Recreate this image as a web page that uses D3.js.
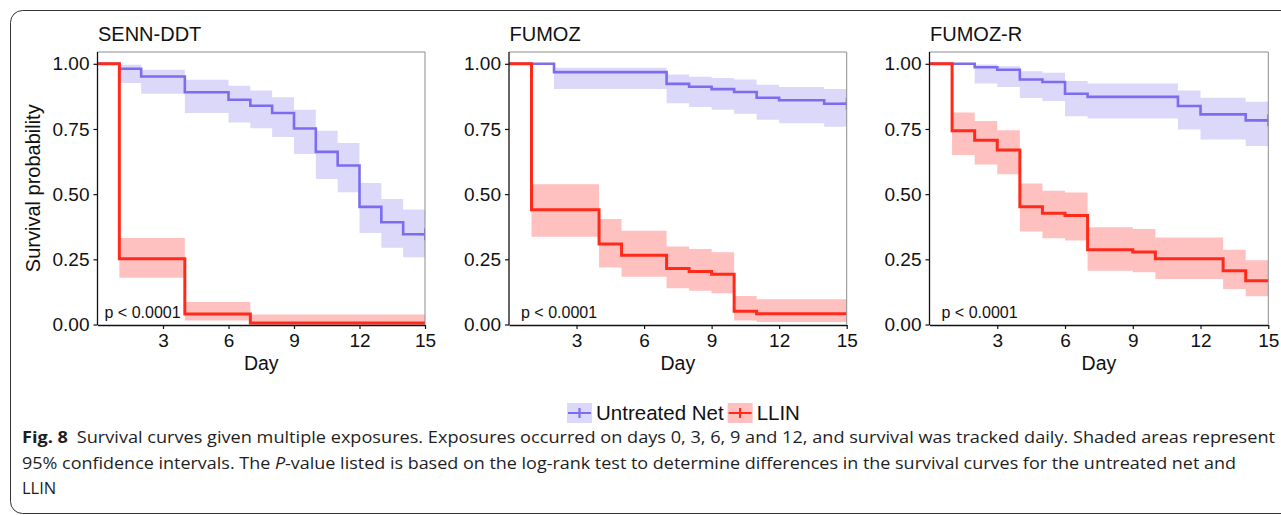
<!DOCTYPE html>
<meta charset="utf-8">
<script src="https://d3js.org/d3.v7.min.js"></script>
<style>
  body { margin: 0; background: #fff; }
  text { font-family: "Liberation Sans", Arial, sans-serif; fill: #111; }
  .caption text { font-family: "Open Sans", sans-serif; fill: #1e1e1e; }
</style>
<div id="fig"></div>
<script>

// ---- data ----
var strains = ["SENN-DDT", "FUMOZ", "FUMOZ-R"];
var groups = ["Untreated Net", "LLIN"];
var xTicks = [3, 6, 9, 12, 15];
var yTicks = [0, 0.25, 0.5, 0.75, 1];
var pLabel = "p < 0.0001";
var lastDay = 15;

// SENN-DDT
var sennUntreatedTime  = [0, 1, 2, 4, 6, 7, 8, 9, 10, 11, 12, 13, 14];
var sennUntreatedSurv  = [1, 0.981, 0.951, 0.891, 0.862, 0.839, 0.811, 0.752, 0.662, 0.610, 0.451, 0.392, 0.346];
var sennUntreatedUpper = [1, 0.996, 0.977, 0.939, 0.916, 0.898, 0.872, 0.824, 0.743, 0.696, 0.543, 0.481, 0.441];
var sennUntreatedLower = [1, 0.926, 0.885, 0.811, 0.775, 0.753, 0.719, 0.654, 0.558, 0.507, 0.351, 0.294, 0.258];

var sennLlinTime  = [0, 1, 4, 7];
var sennLlinSurv  = [1, 0.252, 0.040, 0.006];
var sennLlinUpper = [1, 0.332, 0.086, 0.038];
var sennLlinLower = [1, 0.179, 0.015, 0.000];

// FUMOZ
var fumozUntreatedTime  = [0, 2, 7, 8, 9, 10, 11, 12, 14];
var fumozUntreatedSurv  = [1, 0.968, 0.923, 0.912, 0.903, 0.892, 0.870, 0.860, 0.847];
var fumozUntreatedUpper = [1, 0.985, 0.959, 0.950, 0.946, 0.940, 0.920, 0.911, 0.903];
var fumozUntreatedLower = [1, 0.903, 0.849, 0.834, 0.824, 0.808, 0.785, 0.772, 0.759];

var fumozLlinTime  = [0, 1, 4, 5, 7, 8, 9, 10, 11];
var fumozLlinSurv  = [1, 0.440, 0.309, 0.266, 0.215, 0.203, 0.193, 0.051, 0.041];
var fumozLlinUpper = [1, 0.538, 0.405, 0.360, 0.299, 0.290, 0.277, 0.109, 0.097];
var fumozLlinLower = [1, 0.337, 0.219, 0.183, 0.139, 0.129, 0.120, 0.015, 0.010];

// FUMOZ-R
var fumozrUntreatedTime  = [0, 2, 3, 4, 5, 6, 7, 11, 12, 14];
var fumozrUntreatedSurv  = [1, 0.987, 0.977, 0.940, 0.930, 0.885, 0.873, 0.838, 0.806, 0.783];
var fumozrUntreatedUpper = [1, 0.997, 0.991, 0.971, 0.966, 0.934, 0.924, 0.898, 0.870, 0.854];
var fumozrUntreatedLower = [1, 0.924, 0.911, 0.869, 0.857, 0.799, 0.790, 0.748, 0.710, 0.685];

var fumozrLlinTime  = [0, 1, 2, 3, 4, 5, 6, 7, 9, 10, 13, 14];
var fumozrLlinSurv  = [1, 0.743, 0.707, 0.669, 0.452, 0.427, 0.418, 0.287, 0.278, 0.252, 0.206, 0.168];
var fumozrLlinUpper = [1, 0.813, 0.781, 0.745, 0.541, 0.513, 0.506, 0.373, 0.366, 0.334, 0.287, 0.246];
var fumozrLlinLower = [1, 0.650, 0.614, 0.576, 0.357, 0.331, 0.322, 0.206, 0.200, 0.175, 0.136, 0.108];

var captionLines = [
  ["Fig. 8", "Survival curves given multiple exposures. Exposures occurred on days 0, 3, 6, 9 and 12, and survival was tracked daily. Shaded areas represent"],
  ["95% confidence intervals. The ", "P", "-value listed is based on the log-rank test to determine differences in the survival curves for the untreated net and"],
  ["LLIN"]
];

// build the table the drawing needs
function series(t, s, hi, lo) {
  var pts = t.map(function(d, i) { return {t: d, s: s[i], hi: hi[i], lo: lo[i]}; });
  var last = pts[pts.length - 1];
  pts.push({t: lastDay, s: last.s, hi: last.hi, lo: last.lo});
  return pts;
}
var panels = [
  [series(sennUntreatedTime, sennUntreatedSurv, sennUntreatedUpper, sennUntreatedLower),
   series(sennLlinTime, sennLlinSurv, sennLlinUpper, sennLlinLower)],
  [series(fumozUntreatedTime, fumozUntreatedSurv, fumozUntreatedUpper, fumozUntreatedLower),
   series(fumozLlinTime, fumozLlinSurv, fumozLlinUpper, fumozLlinLower)],
  [series(fumozrUntreatedTime, fumozrUntreatedSurv, fumozrUntreatedUpper, fumozrUntreatedLower),
   series(fumozrLlinTime, fumozrLlinSurv, fumozrLlinUpper, fumozrLlinLower)]
];

// ---- layout ----
var W = 1281, H = 515;
var lineColors = ["#7b6cf0", "#ff2a1a"];
var bandColors = ["#dcd8fa", "#ffc0c0"];
var layout = [
  {x0: 97.5, x1: 425,    pdx: 7},
  {x0: 509,  x1: 846.7,  pdx: 12},
  {x0: 929.5, x1: 1268.3, pdx: 12}
];
var yBottom = 324.5, yOne = 63.8, yTop = 52;

var svg = d3.select("#fig")
  .append("svg")
    .attr("width", W)
    .attr("height", H);

// outer frame
svg.append("rect")
  .attr("x", 10.5).attr("y", 10.5)
  .attr("width", 1300).attr("height", 503)
  .attr("rx", 12)
  .attr("fill", "none")
  .attr("stroke", "#333")
  .attr("stroke-width", 1);

var y = d3.scaleLinear().domain([0, 1]).range([yBottom, yOne]);

panels.forEach(function(data, p) {
  var L = layout[p];
  var x = d3.scaleLinear().domain([0, lastDay]).range([L.x0, L.x1]);
  var g = svg.append("g");

  svg.append("clipPath").attr("id", "clip" + p)
    .append("rect")
      .attr("x", L.x0).attr("y", yTop)
      .attr("width", L.x1 - L.x0).attr("height", yBottom - yTop + 1);

  var plot = g.append("g").attr("clip-path", "url(#clip" + p + ")");

  var band = d3.area().curve(d3.curveStepAfter)
    .x(function(d) { return x(d.t); })
    .y0(function(d) { return y(d.lo); })
    .y1(function(d) { return y(d.hi); });
  var line = d3.line().curve(d3.curveStepAfter)
    .x(function(d) { return x(d.t); })
    .y(function(d) { return y(d.s); });

  data.forEach(function(s, i) {
    plot.append("path").attr("d", band(s)).attr("fill", bandColors[i]);
  });
  data.forEach(function(s, i) {
    plot.append("path").attr("d", line(s))
      .attr("fill", "none")
      .attr("stroke", lineColors[i])
      .attr("stroke-width", i == 1 ? 3 : 2.6);
  });
  // censor mark at the end of the untreated curve
  var end = data[0][data[0].length - 1];
  plot.append("path")
    .attr("d", "M" + x(end.t) + "," + (y(end.s) - 6) + "V" + (y(end.s) + 6) +
               "M" + (x(end.t) - 6) + "," + y(end.s) + "H" + (x(end.t) + 6))
    .attr("stroke", lineColors[0]).attr("stroke-width", 2);

  // panel border (top/right grey)
  g.append("path")
    .attr("d", "M" + L.x0 + "," + yTop + "H" + L.x1 + "V" + yBottom)
    .attr("fill", "none").attr("stroke", "#8c8c8c").attr("stroke-width", 1);

  // axes
  var yAxis = g.append("g")
    .attr("transform", "translate(" + L.x0 + ",0)")
    .call(d3.axisLeft(y).tickValues(yTicks).tickFormat(d3.format(".2f")).tickSize(4).tickPadding(4).tickSizeOuter(0));
  yAxis.select(".domain").remove();
  g.append("line")
    .attr("x1", L.x0).attr("x2", L.x0).attr("y1", yTop).attr("y2", yBottom + 0.5)
    .attr("stroke", "#111").attr("stroke-width", 1.3);

  var xAxis = g.append("g")
    .attr("transform", "translate(0," + (yBottom + 0.5) + ")")
    .call(d3.axisBottom(x).tickValues(xTicks).tickSize(4).tickPadding(5).tickSizeOuter(0));
  xAxis.select(".domain").attr("stroke", "#111").attr("stroke-width", 1.3);

  [yAxis, xAxis].forEach(function(a) {
    a.selectAll(".tick line").attr("stroke", "#111").attr("stroke-width", 1.2);
    a.selectAll(".tick text")
      .attr("fill", "#111")
      .style("font-family", "'Liberation Sans', Arial, sans-serif")
      .style("font-size", "19px");
  });

  // titles
  g.append("text")
    .attr("x", L.x0 + 0.5).attr("y", 40.5)
    .style("font-size", "20px")
    .text(strains[p]);

  g.append("text")
    .attr("x", (L.x0 + L.x1) / 2).attr("y", 370)
    .attr("text-anchor", "middle")
    .style("font-size", "19.5px")
    .text("Day");

  g.append("text")
    .attr("x", L.x0 + L.pdx).attr("y", 318)
    .style("font-size", "16px")
    .text(pLabel);
});

// y axis title
svg.append("text")
  .attr("transform", "translate(40," + ((yTop + yBottom) / 2) + ") rotate(-90)")
  .attr("text-anchor", "middle")
  .style("font-size", "20px")
  .text("Survival probability");

// legend
var legend = svg.append("g");
var lx = 567;
groups.forEach(function(name, i) {
  var key = legend.append("g").attr("transform", "translate(" + lx + ",403)");
  key.append("rect").attr("width", 25).attr("height", 20).attr("fill", bandColors[i]);
  key.append("path")
    .attr("d", "M1,10H24M12.5,5V15")
    .attr("stroke", lineColors[i]).attr("stroke-width", 2.2);
  var t = legend.append("text")
    .attr("x", lx + 29).attr("y", 420)
    .style("font-size", "20.5px")
    .text(name);
  lx = lx + 29 + t.node().getComputedTextLength() + 4;
});

// caption
var cap = svg.append("g").attr("class", "caption");
var capY = [443, 468.5, 493.5];
var capLen = [1253, 1214, null];
captionLines.forEach(function(parts, i) {
  var t = cap.append("text")
    .attr("x", 22).attr("y", capY[i])
    .style("font-size", "16.5px");
  if (i == 0) {
    t.append("tspan").style("font-weight", "bold").text(parts[0]);
    t.append("tspan").attr("dx", 8).text(parts[1]);
  } else if (i == 1) {
    t.append("tspan").text(parts[0]);
    t.append("tspan").style("font-style", "italic").text(parts[1]);
    t.append("tspan").text(parts[2]);
  } else {
    t.text(parts[0]);
  }
  if (capLen[i]) t.attr("textLength", capLen[i]).attr("lengthAdjust", "spacingAndGlyphs");
});

</script>
